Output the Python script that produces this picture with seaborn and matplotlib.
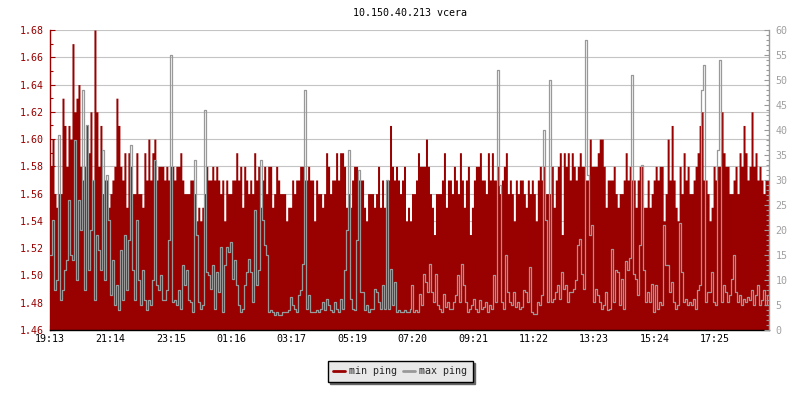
import numpy as np
import matplotlib
matplotlib.use("Agg")
import matplotlib.pyplot as plt
import seaborn as sns
from matplotlib.lines import Line2D
from matplotlib.ticker import MultipleLocator, FormatStrFormatter, FixedLocator

# ---------------- data ----------------
title = "10.150.40.213 vcera"
series_names = ["min ping", "max ping"]
time_labels = ["19:13", "21:14", "23:15", "01:16", "03:17", "05:19",
               "07:20", "09:21", "11:22", "13:23", "15:24", "17:25"]
sample_minutes = 4          # one sample every 4 minutes over 24 h
span_minutes = 1440
label_step_minutes = 121.1

min_ping = [
    1.58, 1.60, 1.56, 1.55, 1.56, 1.56, 1.63, 1.61, 1.58, 1.61,
    1.60, 1.67, 1.62, 1.63, 1.64, 1.58, 1.57, 1.58, 1.61, 1.59,
    1.62, 1.57, 1.68, 1.62, 1.58, 1.61, 1.56, 1.57, 1.57, 1.55,
    1.56, 1.57, 1.58, 1.63, 1.61, 1.58, 1.57, 1.59, 1.55, 1.59,
    1.58, 1.56, 1.56, 1.59, 1.56, 1.56, 1.55, 1.59, 1.57, 1.60,
    1.57, 1.59, 1.60, 1.57, 1.58, 1.58, 1.58, 1.57, 1.58, 1.57,
    1.58, 1.58, 1.57, 1.58, 1.58, 1.59, 1.57, 1.56, 1.56, 1.56,
    1.57, 1.57, 1.56, 1.54, 1.55, 1.54, 1.55, 1.56, 1.58, 1.57,
    1.57, 1.58, 1.57, 1.58, 1.57, 1.56, 1.57, 1.54, 1.57, 1.56,
    1.56, 1.57, 1.57, 1.59, 1.57, 1.58, 1.55, 1.58, 1.57, 1.56,
    1.57, 1.56, 1.59, 1.57, 1.58, 1.55, 1.57, 1.58, 1.56, 1.58,
    1.58, 1.55, 1.56, 1.58, 1.57, 1.56, 1.56, 1.56, 1.54, 1.55,
    1.55, 1.57, 1.56, 1.57, 1.57, 1.58, 1.58, 1.57, 1.57, 1.58,
    1.57, 1.57, 1.54, 1.57, 1.56, 1.56, 1.55, 1.56, 1.59, 1.58,
    1.56, 1.57, 1.57, 1.59, 1.57, 1.59, 1.59, 1.58, 1.55, 1.56,
    1.55, 1.57, 1.58, 1.58, 1.57, 1.57, 1.57, 1.55, 1.54, 1.56,
    1.56, 1.56, 1.55, 1.56, 1.58, 1.55, 1.57, 1.55, 1.57, 1.57,
    1.61, 1.58, 1.57, 1.58, 1.57, 1.56, 1.57, 1.58, 1.54, 1.55,
    1.54, 1.56, 1.56, 1.57, 1.59, 1.58, 1.58, 1.58, 1.60, 1.58,
    1.56, 1.55, 1.53, 1.56, 1.56, 1.56, 1.57, 1.59, 1.55, 1.57,
    1.57, 1.56, 1.58, 1.57, 1.56, 1.59, 1.57, 1.55, 1.57, 1.58,
    1.53, 1.55, 1.57, 1.58, 1.58, 1.59, 1.57, 1.57, 1.56, 1.59,
    1.57, 1.59, 1.57, 1.57, 1.58, 1.56, 1.57, 1.58, 1.59, 1.56,
    1.57, 1.56, 1.54, 1.57, 1.56, 1.57, 1.57, 1.56, 1.55, 1.57,
    1.56, 1.57, 1.56, 1.54, 1.57, 1.58, 1.57, 1.58, 1.56, 1.56,
    1.56, 1.58, 1.55, 1.57, 1.58, 1.59, 1.53, 1.59, 1.58, 1.59,
    1.57, 1.59, 1.58, 1.57, 1.58, 1.59, 1.58, 1.58, 1.57, 1.57,
    1.60, 1.58, 1.58, 1.58, 1.59, 1.60, 1.60, 1.58, 1.55, 1.57,
    1.57, 1.57, 1.58, 1.56, 1.55, 1.56, 1.56, 1.57, 1.59, 1.57,
    1.58, 1.57, 1.57, 1.55, 1.57, 1.58, 1.58, 1.55, 1.55, 1.57,
    1.55, 1.56, 1.57, 1.58, 1.57, 1.58, 1.58, 1.54, 1.56, 1.60,
    1.57, 1.61, 1.57, 1.55, 1.54, 1.58, 1.56, 1.59, 1.57, 1.58,
    1.56, 1.56, 1.57, 1.58, 1.59, 1.61, 1.62, 1.57, 1.57, 1.56,
    1.54, 1.55, 1.58, 1.57, 1.58, 1.58, 1.62, 1.59, 1.58, 1.58,
    1.56, 1.56, 1.57, 1.58, 1.56, 1.59, 1.58, 1.61, 1.59, 1.57,
    1.58, 1.62, 1.58, 1.59, 1.57, 1.58, 1.57, 1.56, 1.57, 1.57,
]

max_ping = [
    15, 22, 8, 10, 39, 6, 8, 12, 14, 26,
    15, 14, 38, 10, 26, 20, 48, 8, 41, 12,
    20, 30, 6, 19, 16, 12, 36, 10, 31, 22,
    7, 14, 5, 9, 4, 16, 6, 19, 8, 18,
    37, 12, 6, 22, 10, 5, 12, 6, 4, 6,
    5, 10, 34, 9, 8, 11, 6, 6, 8, 18,
    55, 5.7, 6, 5, 8, 4.3, 13, 9, 12, 6,
    5.7, 3.7, 34, 19, 5.7, 4.3, 5, 44, 11.7, 11,
    8.3, 13, 4.3, 11.7, 7.7, 16.7, 3.7, 13, 16.7, 15.7,
    17.7, 10.3, 14, 9, 5, 3.7, 4.3, 9, 11.7, 14.3,
    11.7, 5.7, 24, 9, 12, 34, 22, 17, 15, 3.7,
    4, 3.7, 3, 3.7, 3, 3, 3.7, 3.7, 3.7, 4,
    6.7, 5, 4.3, 3.7, 7, 8, 13.3, 48, 4.3, 7,
    3.7, 3.7, 3.7, 4, 3.7, 4.3, 5.7, 4, 6.3, 5,
    4, 3.7, 5.7, 4.3, 3.7, 6.3, 4.3, 12, 20, 36,
    6.3, 4.3, 4, 18, 32, 7.7, 7.7, 4, 5, 3.7,
    4.3, 4.3, 8.3, 7.7, 5.7, 4.3, 9, 4.3, 30, 4.3,
    12.3, 5, 9.7, 3.7, 4, 3.7, 3.7, 4, 3.7, 3.7,
    4.3, 9, 3.7, 4, 3.7, 7.3, 5, 11.3, 9.7, 7.7,
    13.3, 7.7, 5.7, 11.3, 5, 4.3, 3.7, 7.3, 4.7, 5.7,
    4.3, 4.3, 5.7, 7, 11, 5.7, 13.3, 9, 5.7, 3.7,
    4.3, 5, 6.3, 4.3, 3.7, 6, 4.3, 4.7, 5.7, 3.7,
    5, 4.3, 11, 5.7, 52, 29, 5.7, 4.3, 15, 7.7,
    5.7, 5, 7.7, 4.7, 5.7, 4.3, 4.7, 8, 7.7, 5.7,
    12.7, 3.7, 3.3, 3.3, 5.7, 5, 7, 40, 22, 5.7,
    50, 5.7, 6.3, 7.7, 9, 6.3, 11.7, 8.3, 9, 5.7,
    7.7, 7.7, 8.3, 10, 17, 18.3, 11.3, 8.3, 58, 31,
    19, 21, 5.7, 8.3, 7, 5.7, 4.3, 5, 7.7, 4,
    4.3, 16.2, 5.7, 12, 11.7, 5, 10.3, 4.3, 13.8, 12,
    14.5, 51, 11.3, 10.3, 7, 17, 33, 12, 5.7, 7.7,
    5.7, 9.3, 3.7, 9, 4.3, 5.7, 5, 21, 13, 13,
    7.7, 9.7, 5.7, 4.3, 5, 21.5, 11.7, 5.7, 6.3, 5,
    5.7, 5, 6.3, 4.3, 8, 9, 48, 53, 5.7, 7.7,
    7.7, 11.7, 5.7, 5, 36, 54, 5.7, 9, 7.7, 5.7,
    7, 10.3, 15, 7.7, 5.7, 7, 5, 6.3, 5.7, 6.7,
    6, 8, 5, 7, 9, 5, 6, 8, 5, 7,
]

# ---------------- style ----------------
RED = "#990000"
GREY = "#999999"
GRID = "#c4c4c4"
FS = 7.2

sns.set_theme(style="white")
plt.rcParams["font.family"] = ["DejaVu Sans Mono", "DejaVu Sans"]

fig = plt.figure(figsize=(8, 4), dpi=100)
fig.patch.set_facecolor("white")
ax = fig.add_axes([50 / 800, 70 / 400, 719 / 800, 300 / 400])

times = np.arange(len(min_ping)) * sample_minutes
edges = np.append(times, span_minutes)
min_vals = np.append(min_ping, min_ping[-1])
max_vals = np.append(max_ping, max_ping[-1])

ax.fill_between(edges, min_vals, 1.46, step="post", color=RED, linewidth=0)
ax.set_xlim(0, span_minutes)
ax.set_ylim(1.46, 1.68)
ax.set_axisbelow(True)
ax.yaxis.set_major_locator(MultipleLocator(0.02))
ax.yaxis.set_minor_locator(MultipleLocator(0.01))
ax.yaxis.set_major_formatter(FormatStrFormatter("%.2f"))
ax.grid(True, axis="y", which="major", color=GRID, linewidth=0.8)
ax.grid(False, axis="x")
ax.set_xticks(np.arange(len(time_labels)) * label_step_minutes)
ax.set_xticklabels(time_labels)
ax.tick_params(axis="x", which="major", direction="in", length=3.5, width=0.8,
               color="black", labelcolor="black", labelsize=FS, pad=3,
               bottom=True, top=False)
ax.tick_params(axis="y", which="major", direction="in", length=3.6, width=0.8,
               color=RED, labelcolor=RED, labelsize=FS, pad=4.8, left=True, right=False)
ax.tick_params(axis="y", which="minor", direction="in", length=2.2, width=0.8,
               color=RED, left=True, right=False)
for side in ["top", "right"]:
    ax.spines[side].set_visible(False)
ax.spines["left"].set_color(RED)
ax.spines["left"].set_linewidth(1.0)
ax.spines["bottom"].set_color("black")
ax.spines["bottom"].set_linewidth(1.0)
ax.set_facecolor("white")

ax2 = ax.twinx()
sns.lineplot(x=edges, y=max_vals, ax=ax2, color=GREY, linewidth=0.9,
             drawstyle="steps-post", estimator=None, sort=False)
ax2.set_ylim(0, 60)
ax2.set_xlim(0, span_minutes)
ax2.set_ylabel("")
ax2.yaxis.set_major_locator(MultipleLocator(5))
ax2.yaxis.set_minor_locator(MultipleLocator(1))
ax2.yaxis.set_major_formatter(FormatStrFormatter("%d"))
ax2.tick_params(axis="y", which="major", direction="in", length=3.6, width=0.8,
                color=GREY, labelcolor="#a0a0a0", labelsize=FS, pad=4.6,
                right=True, left=False)
ax2.tick_params(axis="y", which="minor", direction="in", length=2.2, width=0.8,
                color=GREY, right=True, left=False)
ax2.grid(False)
for side in ["top", "left", "bottom"]:
    ax2.spines[side].set_visible(False)
ax2.spines["right"].set_color(GREY)
ax2.spines["right"].set_linewidth(1.0)

pos = ax.get_position()
fig.text((pos.x0 + pos.x1) / 2, 1 - 13 / 400, title, ha="center", va="center",
         fontsize=FS, color="black")

handles = [Line2D([0], [0], color=RED, lw=2),
           Line2D([0], [0], color=GREY, lw=2)]
leg = fig.legend(handles, series_names, loc="center",
                 bbox_to_anchor=(0.5, 1 - 371 / 400), ncol=2, fontsize=FS,
                 frameon=True, fancybox=False,
                 shadow={"color": "#666666", "alpha": 1},
                 facecolor="#e8e8e8", edgecolor="black", framealpha=1,
                 handlelength=1.2, handletextpad=0.4, columnspacing=0.6,
                 borderpad=0.55, borderaxespad=0)
leg.get_frame().set_linewidth(1.0)

fig.savefig("out.png", dpi=100)
